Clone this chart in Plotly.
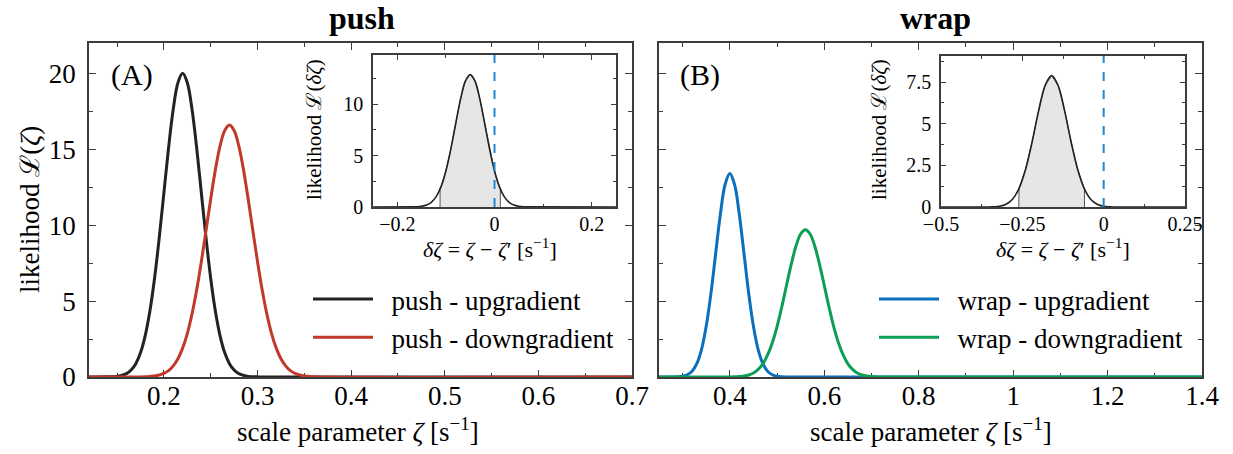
import plotly.graph_objects as go

W, H = 1233, 454
FONT = "Liberation Serif"
NB = "\u00a0"

# ---- panel (A): push ----
push_up_x = [0.12, 0.14, 0.15, 0.16, 0.165, 0.17, 0.175, 0.18, 0.185, 0.19, 0.195, 0.20, 0.205,
             0.21, 0.215, 0.22, 0.225, 0.23, 0.235, 0.24, 0.245, 0.25, 0.255, 0.26, 0.265, 0.27,
             0.275, 0.28, 0.29, 0.30, 0.70]
push_up_y = [0, 0.01, 0.04, 0.22, 0.46, 0.88, 1.59, 2.71, 4.33, 6.49, 9.16, 12.13, 15.10,
             17.65, 19.38, 20.0, 19.38, 17.65, 15.10, 12.13, 9.16, 6.49, 4.33, 2.71, 1.59, 0.88,
             0.46, 0.22, 0.04, 0.01, 0]

push_dn_x = [0.12, 0.18, 0.19, 0.20, 0.205, 0.21, 0.215, 0.22, 0.225, 0.23, 0.235, 0.24, 0.245,
             0.25, 0.255, 0.26, 0.265, 0.27, 0.275, 0.28, 0.285, 0.29, 0.295, 0.30, 0.305, 0.31,
             0.315, 0.32, 0.325, 0.33, 0.335, 0.34, 0.35, 0.36, 0.70]
push_dn_y = [0, 0.015, 0.06, 0.24, 0.42, 0.73, 1.20, 1.90, 2.86, 4.14, 5.73, 7.60, 9.65,
             11.73, 13.66, 15.22, 16.24, 16.6, 16.24, 15.22, 13.66, 11.73, 9.65, 7.60, 5.73, 4.14,
             2.86, 1.90, 1.20, 0.73, 0.42, 0.24, 0.06, 0.015, 0]

# inset (A): difference distribution
push_diff_x = [-0.25, -0.17, -0.16, -0.15, -0.14, -0.13, -0.12, -0.11, -0.10, -0.09, -0.08, -0.07,
               -0.06, -0.05, -0.04, -0.03, -0.02, -0.01, 0.00, 0.01, 0.02, 0.03, 0.04, 0.05,
               0.06, 0.07, 0.25]
push_diff_y = [0, 0.01, 0.02, 0.07, 0.19, 0.46, 1.01, 1.98, 3.51, 5.61, 8.08, 10.48,
               12.25, 12.9, 12.25, 10.48, 8.08, 5.61, 3.51, 1.98, 1.01, 0.46, 0.19, 0.07,
               0.02, 0.01, 0]
push_ci = [-0.112, 0.012]
push_ci_y = [1.75, 1.75]

# ---- panel (B): wrap ----
wrap_up_x = [0.25, 0.28, 0.29, 0.30, 0.31, 0.32, 0.33, 0.34, 0.35, 0.36, 0.37, 0.38, 0.39, 0.40,
             0.41, 0.42, 0.43, 0.44, 0.45, 0.46, 0.47, 0.48, 0.49, 0.50, 0.51, 0.52, 1.40]
wrap_up_y = [0, 0.004, 0.016, 0.05, 0.15, 0.38, 0.88, 1.81, 3.34, 5.51, 8.13, 10.73, 12.68, 13.4,
             12.68, 10.73, 8.13, 5.51, 3.34, 1.81, 0.88, 0.38, 0.15, 0.05, 0.016, 0.004, 0]

wrap_dn_x = [0.25, 0.40, 0.41, 0.42, 0.43, 0.44, 0.45, 0.46, 0.47, 0.48, 0.49, 0.50, 0.51, 0.52,
             0.53, 0.54, 0.55, 0.56, 0.57, 0.58, 0.59, 0.60, 0.61, 0.62, 0.63, 0.64, 0.65, 0.66,
             0.67, 0.68, 0.69, 0.70, 0.71, 0.72, 1.40]
wrap_dn_y = [0, 0, 0.01, 0.03, 0.06, 0.13, 0.26, 0.50, 0.87, 1.45, 2.26, 3.32, 4.61, 6.03,
             7.42, 8.61, 9.42, 9.70, 9.42, 8.61, 7.42, 6.03, 4.61, 3.32, 2.26, 1.45, 0.87, 0.50,
             0.26, 0.13, 0.06, 0.03, 0.01, 0, 0]

wrap_diff_x = [-0.5, -0.36, -0.34, -0.32, -0.30, -0.28, -0.26, -0.24, -0.22, -0.20, -0.18, -0.16,
               -0.14, -0.12, -0.10, -0.08, -0.06, -0.04, -0.02, 0.00, 0.02, 0.04, 0.25]
wrap_diff_y = [0, 0.003, 0.014, 0.05, 0.17, 0.47, 1.12, 2.26, 3.90, 5.77, 7.29, 7.88,
               7.29, 5.77, 3.90, 2.26, 1.12, 0.47, 0.17, 0.05, 0.014, 0, 0]
wrap_ci = [-0.261, -0.059]
wrap_ci_y = [1.07, 1.07]

# tick values
main_yticks = [0, 5, 10, 15, 20]
a_xticks = [0.2, 0.3, 0.4, 0.5, 0.6, 0.7]
b_xticks = [0.4, 0.6, 0.8, 1.0, 1.2, 1.4]
b_xticktext = ["0.4", "0.6", "0.8", "1", "1.2", "1.4"]
ia_xticks = [-0.2, 0, 0.2]
ia_xticktext = ["\u22120.2", "0", "0.2"]
ia_yticks = [0, 5, 10]
ib_xticks = [-0.5, -0.25, 0, 0.25]
ib_xticktext = ["\u22120.5", "\u22120.25", "0", "0.25"]
ib_yticks = [0, 2.5, 5, 7.5]

C_BLACK = "#222222"
C_RED = "#C0392B"
C_BLUE = "#0A6FBD"
C_GREEN = "#0C9E55"
C_DASH = "#1F86D0"
AX = "#3c3c3c"


def px(x):
    return x / W


def py(y):
    return 1 - y / H


def shade(xs, ys, ci, ci_y):
    """Polygon under the curve between the interval bounds."""
    inner = [(x, y) for x, y in zip(xs, ys) if ci[0] < x < ci[1]]
    sx = [ci[0], ci[0]] + [p[0] for p in inner] + [ci[1], ci[1]]
    sy = [0, ci_y[0]] + [p[1] for p in inner] + [ci_y[1], 0]
    return sx, sy


def legend_name(s):
    # small lead-in gap between the line sample and the label
    return NB * 2 + s


fig = go.Figure()

# main curves
fig.add_trace(go.Scatter(x=push_up_x, y=push_up_y, mode="lines",
                         name=legend_name("push - upgradient"),
                         line=dict(color=C_BLACK, width=3, shape="spline"),
                         xaxis="x", yaxis="y", legend="legend"))
fig.add_trace(go.Scatter(x=push_dn_x, y=push_dn_y, mode="lines",
                         name=legend_name("push - downgradient"),
                         line=dict(color=C_RED, width=3, shape="spline"),
                         xaxis="x", yaxis="y", legend="legend"))
fig.add_trace(go.Scatter(x=wrap_up_x, y=wrap_up_y, mode="lines",
                         name=legend_name("wrap - upgradient"),
                         line=dict(color=C_BLUE, width=3, shape="spline"),
                         xaxis="x2", yaxis="y2", legend="legend2"))
fig.add_trace(go.Scatter(x=wrap_dn_x, y=wrap_dn_y, mode="lines",
                         name=legend_name("wrap - downgradient"),
                         line=dict(color=C_GREEN, width=3, shape="spline"),
                         xaxis="x2", yaxis="y2", legend="legend2"))

# insets
for xs, ys, ci, ci_y, xa, ya, ytop in [
    (push_diff_x, push_diff_y, push_ci, push_ci_y, "x3", "y3", 14.8),
    (wrap_diff_x, wrap_diff_y, wrap_ci, wrap_ci_y, "x4", "y4", 9.06),
]:
    sx, sy = shade(xs, ys, ci, ci_y)
    fig.add_trace(go.Scatter(x=sx, y=sy, mode="lines", fill="toself", fillcolor="#e6e6e6",
                             line=dict(color="#555555", width=1), showlegend=False,
                             xaxis=xa, yaxis=ya, hoverinfo="skip"))
    fig.add_trace(go.Scatter(x=xs, y=ys, mode="lines", showlegend=False,
                             line=dict(color=C_BLACK, width=1.6, shape="spline"),
                             xaxis=xa, yaxis=ya))
    fig.add_trace(go.Scatter(x=[0, 0], y=[0, ytop], mode="lines", showlegend=False,
                             line=dict(color=C_DASH, width=2, dash="dash"),
                             xaxis=xa, yaxis=ya))


def axis_style(size, ticklen, minor_dtick, minor_len):
    return dict(showline=True, linecolor=AX, linewidth=1.5, mirror="allticks",
                ticks="inside", ticklen=ticklen, tickcolor=AX, tickwidth=1.2,
                showgrid=False, zeroline=False, layer="below traces", automargin=False,
                tickfont=dict(family=FONT, size=size, color="black"),
                minor=dict(ticks="inside", dtick=minor_dtick, ticklen=minor_len,
                           tickcolor=AX, tickwidth=1.2, showgrid=False))


xa = axis_style(27, 7, 0.05, 4)
xa.update(domain=[px(89), px(632)], range=[0.12, 0.7], anchor="y",
          tickmode="array", tickvals=a_xticks, ticklabelstandoff=-6)
ya = axis_style(27, 7, 2.5, 4)
ya.update(domain=[py(377), py(43)], range=[0, 22], anchor="x",
          tickmode="array", tickvals=main_yticks, ticklabelstandoff=6)

xb = axis_style(27, 7, 0.1, 4)
xb.update(domain=[px(659), px(1202)], range=[0.25, 1.4], anchor="y2",
          tickmode="array", tickvals=b_xticks, ticktext=b_xticktext, ticklabelstandoff=-6)
yb = axis_style(27, 7, 2.5, 4)
yb.update(domain=[py(377), py(43)], range=[0, 22], anchor="x2",
          tickmode="array", tickvals=main_yticks, showticklabels=False)

xia = axis_style(20, 5, 0.1, 3)
xia.update(domain=[px(373), px(616)], range=[-0.25, 0.25], anchor="y3",
           tickmode="array", tickvals=ia_xticks, ticktext=ia_xticktext, ticklabelstandoff=-2)
xia["minor"]["tick0"] = 0
yia = axis_style(20, 5, 2.5, 3)
yia.update(domain=[py(207), py(55)], range=[0, 14.8], anchor="x3",
           tickmode="array", tickvals=ia_yticks, ticklabelstandoff=4)

xib = axis_style(20, 5, 0.125, 3)
xib.update(domain=[px(941), px(1185)], range=[-0.5, 0.25], anchor="y4",
           tickmode="array", tickvals=ib_xticks, ticktext=ib_xticktext, ticklabelstandoff=-2)
xib["minor"]["tick0"] = 0
yib = axis_style(20, 5, 1.25, 3)
yib.update(domain=[py(207), py(56)], range=[0, 9.06], anchor="x4",
           tickmode="array", tickvals=ib_yticks, ticklabelstandoff=4)


def ann(text, x, y, size, angle=0, bold=False):
    return dict(text=f"<b>{text}</b>" if bold else text, x=px(x), y=py(y),
                xref="paper", yref="paper", showarrow=False, textangle=angle,
                xanchor="center", yanchor="middle",
                font=dict(family=FONT, size=size, color="black"))


inset_xlabel = (f"<i>\u03b4\u03b6</i>{NB}={NB}<i>\u03b6</i>{NB}\u2212{NB}<i>\u03b6</i>\u2032"
                f"{NB}[s<sup>\u22121</sup>]")
main_xlabel = "scale parameter <i>\u03b6</i> [s<sup>\u22121</sup>]"

annotations = [
    ann("push", 362, 18, 32, bold=True),
    ann("wrap", 935, 18, 32, bold=True),
    ann("(A)", 132, 75, 30),
    ann("(B)", 700, 75, 30),
    ann("likelihood \u2112(<i>\u03b6</i>)", 30, 210, 27, angle=-90),
    ann(main_xlabel, 358, 430, 27),
    ann(main_xlabel, 931, 430, 27),
    ann("likelihood \u2112(<i>\u03b4\u03b6</i>)", 314, 130, 21, angle=-90),
    ann("likelihood \u2112(<i>\u03b4\u03b6</i>)", 879, 130, 21, angle=-90),
    ann(inset_xlabel, 490, 248, 22),
    ann(inset_xlabel, 1063, 248, 22),
]

legend_style = dict(bgcolor="rgba(0,0,0,0)", borderwidth=0, xanchor="left", yanchor="top",
                    font=dict(family=FONT, size=27, color="black"), itemwidth=60,
                    tracegroupgap=0)

fig.update_layout(
    width=W, height=H, margin=dict(l=0, r=0, t=0, b=0),
    paper_bgcolor="white", plot_bgcolor="white",
    xaxis=xa, yaxis=ya, xaxis2=xb, yaxis2=yb,
    xaxis3=xia, yaxis3=yia, xaxis4=xib, yaxis4=yib,
    annotations=annotations,
    legend=dict(**legend_style, x=px(308), y=py(275)),
    legend2=dict(**legend_style, x=px(874), y=py(275)),
    showlegend=True,
)

fig.write_html("out.html")
